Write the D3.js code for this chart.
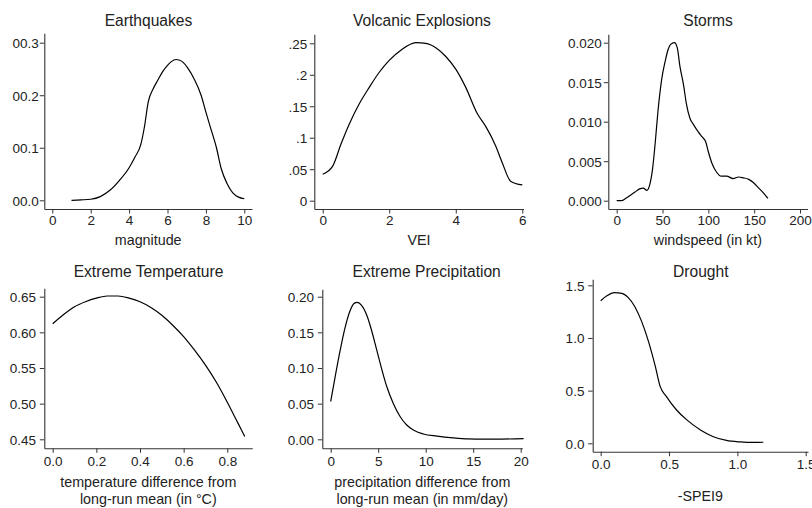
<!DOCTYPE html>
<html>
<head>
<meta charset="utf-8">
<script src="https://cdn.jsdelivr.net/npm/d3@7"></script>
<style>
  html, body { margin: 0; padding: 0; background: #fff; }
  svg { display: block; font-family: "Liberation Sans", Arial, Helvetica, sans-serif; }
</style>
</head>
<body>
<svg id="chart" width="812" height="508"></svg>
<script>
// ---------------- DATA ----------------
const eqX = [1.0, 1.5, 2.0, 2.5, 3.0, 3.5, 4.0, 4.3, 4.6, 4.8, 5.0, 5.25, 5.5, 5.75, 6.0, 6.2, 6.45, 6.6, 6.8, 7.05, 7.4, 7.75, 8.0, 8.2, 8.55, 8.8, 9.1, 9.4, 9.7, 10.0];
const eqY = [0.000, 0.0008, 0.002, 0.007, 0.019, 0.038, 0.062, 0.082, 0.105, 0.140, 0.188, 0.212, 0.229, 0.245, 0.257, 0.264, 0.268, 0.267, 0.263, 0.252, 0.230, 0.200, 0.168, 0.143, 0.100, 0.060, 0.032, 0.014, 0.006, 0.003];

const volX = [0.0, 0.3, 0.55, 0.8, 1.1, 1.4, 1.7, 2.0, 2.35, 2.8, 3.1, 3.4, 3.7, 4.0, 4.3, 4.65, 4.9, 5.2, 5.4, 5.65, 6.0];
const volY = [0.042, 0.055, 0.090, 0.122, 0.154, 0.180, 0.204, 0.223, 0.239, 0.251, 0.250, 0.243, 0.229, 0.209, 0.180, 0.138, 0.118, 0.087, 0.060, 0.031, 0.025];

const stormX = [0, 5, 10, 15, 20, 25, 29, 33, 36, 39, 42, 45, 49, 53, 56, 60, 63, 66, 69, 73, 76, 80, 84, 89, 93, 97, 100, 104, 109, 114, 120, 127, 133, 138, 144, 149, 155, 160, 165];
const stormY = [0.0000, 0.0000, 0.0003, 0.0007, 0.0011, 0.0015, 0.0016, 0.0013, 0.0020, 0.0039, 0.0073, 0.0113, 0.0153, 0.0177, 0.0191, 0.0199, 0.0200, 0.0194, 0.0170, 0.0146, 0.0123, 0.0104, 0.0096, 0.0087, 0.0081, 0.0075, 0.0062, 0.0047, 0.0036, 0.0031, 0.0031, 0.0028, 0.0030, 0.0029, 0.0027, 0.0023, 0.0016, 0.0010, 0.0003];

const tempX = [0.00, 0.05, 0.10, 0.15, 0.20, 0.25, 0.30, 0.35, 0.40, 0.45, 0.50, 0.55, 0.60, 0.65, 0.70, 0.75, 0.80, 0.85, 0.88];
const tempY = [0.612, 0.625, 0.636, 0.643, 0.648, 0.651, 0.651, 0.648, 0.643, 0.635, 0.624, 0.610, 0.594, 0.575, 0.554, 0.530, 0.502, 0.472, 0.454];

const precX = [0.0, 0.5, 1.0, 1.5, 2.0, 2.5, 2.8, 3.25, 3.8, 4.3, 4.85, 5.4, 5.9, 6.6, 7.3, 8.0, 8.7, 9.75, 11.2, 12.9, 14.5, 16.0, 18.0, 20.3];
const precY = [0.053, 0.090, 0.125, 0.156, 0.179, 0.191, 0.192, 0.188, 0.174, 0.153, 0.125, 0.097, 0.074, 0.050, 0.032, 0.020, 0.013, 0.0075, 0.0045, 0.002, 0.0005, 0.0002, 0.0003, 0.001];

const drouX = [0.00, 0.045, 0.10, 0.155, 0.20, 0.25, 0.30, 0.35, 0.40, 0.435, 0.48, 0.555, 0.63, 0.73, 0.82, 0.92, 1.02, 1.12, 1.19];
const drouY = [1.354, 1.400, 1.430, 1.424, 1.386, 1.297, 1.155, 0.965, 0.728, 0.540, 0.445, 0.316, 0.222, 0.127, 0.065, 0.027, 0.013, 0.008, 0.010];

const titles = ["Earthquakes", "Volcanic Explosions", "Storms", "Extreme Temperature", "Extreme Precipitation", "Drought"];
const xTitles = [["magnitude"], ["VEI"], ["windspeed (in kt)"], ["temperature difference from", "long-run mean (in °C)"], ["precipitation difference from", "long-run mean (in mm/day)"], ["-SPEI9"]];

const eqXTicks = [0, 2, 4, 6, 8, 10];
const eqYTicks = [0, 0.1, 0.2, 0.3];
const eqYLabels = ["00.0", "00.1", "00.2", "00.3"];
const volXTicks = [0, 2, 4, 6];
const volYTicks = [0, 0.05, 0.1, 0.15, 0.2, 0.25];
const volYLabels = ["0", ".05", ".1", ".15", ".2", ".25"];
const stormXTicks = [0, 50, 100, 150, 200];
const stormYTicks = [0, 0.005, 0.010, 0.015, 0.020];
const stormYLabels = ["0.000", "0.005", "0.010", "0.015", "0.020"];
const tempXTicks = [0, 0.2, 0.4, 0.6, 0.8];
const tempXLabels = ["0.0", "0.2", "0.4", "0.6", "0.8"];
const tempYTicks = [0.45, 0.50, 0.55, 0.60, 0.65];
const tempYLabels = ["0.45", "0.50", "0.55", "0.60", "0.65"];
const precXTicks = [0, 5, 10, 15, 20];
const precYTicks = [0, 0.05, 0.10, 0.15, 0.20];
const precYLabels = ["0.00", "0.05", "0.10", "0.15", "0.20"];
const drouXTicks = [0, 0.5, 1.0, 1.5];
const drouXLabels = ["0.0", "0.5", "1.0", "1.5"];
const drouYTicks = [0, 0.5, 1.0, 1.5];
const drouYLabels = ["0.0", "0.5", "1.0", "1.5"];

// ---------------- LAYOUT ----------------
const panels = [
  { x: eqX, y: eqY, xt: eqXTicks, xl: null, yt: eqYTicks, yl: eqYLabels,
    L: 44.3, R: 252, T: 33.3, B: 209, xp: [52.3, 244.3], yp: [200.3, 42.7],
    titleY: 26, xLabY: 225.3, xTitleY: 245, yGap: 5.5, titleX: 148.5 },
  { x: volX, y: volY, xt: volXTicks, xl: null, yt: volYTicks, yl: volYLabels,
    L: 314.3, R: 523.5, T: 34.3, B: 209, xp: [322.7, 522.3], yp: [200.7, 43.3],
    titleY: 26, xLabY: 225.3, xTitleY: 245, yGap: 7, titleX: 422 },
  { x: stormX, y: stormY, xt: stormXTicks, xl: null, yt: stormYTicks, yl: stormYLabels,
    L: 608.3, R: 807.5, T: 34.3, B: 209, xp: [616.7, 800], yp: [200.7, 42.7],
    titleY: 26, xLabY: 225.3, xTitleY: 245, yGap: 6.6, titleX: 708 },
  { x: tempX, y: tempY, xt: tempXTicks, xl: tempXLabels, yt: tempYTicks, yl: tempYLabels,
    L: 44.3, R: 252.3, T: 288.3, B: 448.3, xp: [52.7, 227.3], yp: [439.3, 296.7],
    titleY: 277.3, xLabY: 466, xTitleY: 487.3, yGap: 8.3, titleX: 148.5 },
  { x: precX, y: precY, xt: precXTicks, xl: null, yt: precYTicks, yl: precYLabels,
    L: 322.3, R: 522.3, T: 289.3, B: 448.3, xp: [330.7, 520.7], yp: [439.3, 296.7],
    titleY: 277.3, xLabY: 466, xTitleY: 487.3, yGap: 8.3, titleX: 426.7 },
  { x: drouX, y: drouY, xt: drouXTicks, xl: drouXLabels, yt: drouYTicks, yl: drouYLabels,
    L: 592.7, R: 808, T: 279.3, B: 451.7, xp: [600.7, 805.7], yp: [443.3, 285.3],
    titleY: 277.3, xLabY: 469, xTitleY: 501.3, yGap: 8.3, titleX: 700.8 }
];

const TEXT = "#222";
const AXIS = "#333";
const FS_TITLE = 15.6, FS_TICK = 13.5, FS_AXT = 14.3;
const TICK = 4.5;

const svg = d3.select("#chart");

panels.forEach((p, i) => {
  // build scales from the tick anchors, then extend to the plot region edges
  const xs = d3.scaleLinear().domain([p.xt[0], p.xt[p.xt.length - 1]]).range(p.xp);
  xs.domain([xs.invert(p.L), xs.invert(p.R)]).range([p.L, p.R]);
  const ys = d3.scaleLinear().domain([p.yt[0], p.yt[p.yt.length - 1]]).range(p.yp);
  ys.domain([ys.invert(p.B), ys.invert(p.T)]).range([p.B, p.T]);

  const g = svg.append("g");

  // X axis
  const xa = d3.axisBottom(xs).tickValues(p.xt).tickSizeInner(TICK).tickSizeOuter(0)
    .tickFormat((d, k) => p.xl ? p.xl[k] : String(d));
  const gx = g.append("g").attr("transform", `translate(0,${p.B})`).call(xa);
  gx.select(".domain").attr("stroke", AXIS).attr("stroke-width", 1.1);
  gx.selectAll(".tick line").attr("stroke", AXIS).attr("stroke-width", 1);
  gx.selectAll(".tick text").attr("fill", TEXT).attr("font-size", FS_TICK)
    .attr("font-family", "Liberation Sans, Arial, sans-serif")
    .attr("y", p.xLabY - p.B).attr("dy", null);

  // Y axis
  const ya = d3.axisLeft(ys).tickValues(p.yt).tickSizeInner(TICK).tickSizeOuter(0)
    .tickFormat((d, k) => p.yl[k]);
  const gy = g.append("g").attr("transform", `translate(${p.L},0)`).call(ya);
  gy.select(".domain").attr("stroke", AXIS).attr("stroke-width", 1.1);
  gy.selectAll(".tick line").attr("stroke", AXIS).attr("stroke-width", 1);
  gy.selectAll(".tick text").attr("fill", TEXT).attr("font-size", FS_TICK)
    .attr("font-family", "Liberation Sans, Arial, sans-serif")
    .attr("x", -p.yGap).attr("dy", "0.36em");
  g.selectAll("g").attr("font-size", null).attr("font-family", null);

  // Curve
  const line = d3.line().x((d, k) => xs(p.x[k])).y((d, k) => ys(p.y[k])).curve(d3.curveMonotoneX);
  g.append("path").datum(p.x).attr("d", line)
    .attr("fill", "none").attr("stroke", "#000").attr("stroke-width", 1.2);

  // Title
  g.append("text").attr("x", p.titleX).attr("y", p.titleY)
    .attr("text-anchor", "middle").attr("font-size", FS_TITLE).attr("fill", TEXT)
    .text(titles[i]);

  // X axis title (possibly two lines)
  const xc = (p.L + p.R) / 2;
  xTitles[i].forEach((t, k) => {
    g.append("text").attr("x", xc).attr("y", p.xTitleY + k * 16.7)
      .attr("text-anchor", "middle").attr("font-size", FS_AXT).attr("fill", TEXT)
      .text(t);
  });
});
</script>
</body>
</html>
